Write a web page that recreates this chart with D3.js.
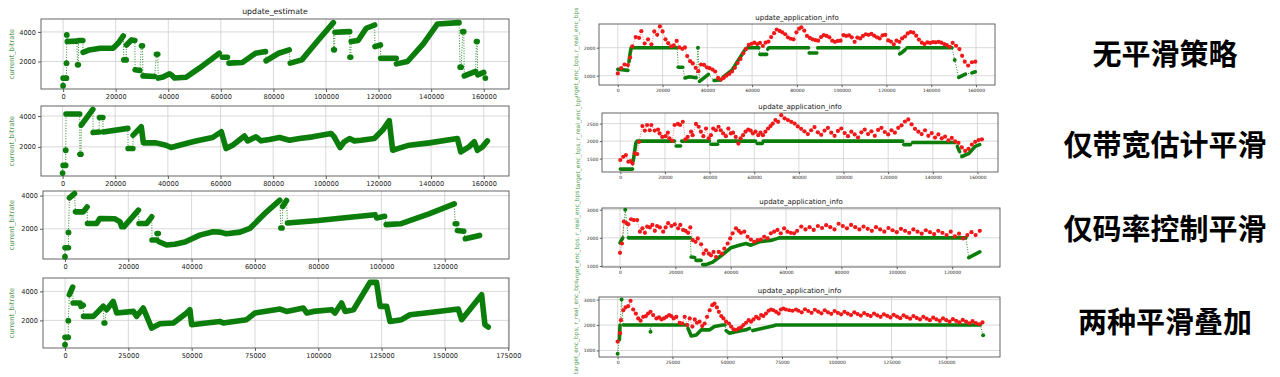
<!DOCTYPE html>
<html>
<head>
<meta charset="utf-8">
<script src="https://cdn.jsdelivr.net/npm/d3@7"></script>
<style>
  body { margin: 0; background: #fff; }
  svg { display: block; font-family: "DejaVu Sans", sans-serif; }
</style>
</head>
<body>
<svg id="chart" width="1280" height="377"></svg>
<script>
// time in thousands of ms, value in bps. Each run is a dense stretch of markers.
const estNoSmooth = [
  [[0,360]], [[0,876],[1.3,876]], [[1.3,1890]], [[1.4,3800]],
  [[1.6,3350],[5.2,3380]], [[5.5,1775],[5.8,1775]], [[5.9,3420],[7.5,3420]],
  [[7.6,2620],[10,2780],[14.1,2900],[19,2900],[21,3250],[22.9,3730]],
  [[23.1,2110],[24,2110]], [[24.1,3120],[26,3460],[27.3,3420]],
  [[27.4,1440],[29.2,1390]], [[29.8,3060],[30.2,3060]], [[30.4,1030],[34.8,990]],
  [[35.5,2490],[36,2490]],
  [[36.2,880],[38,950],[40.5,1170],[41.5,1050],[42.4,880],[46.8,940],[51.8,1550],[56.9,2220],[59.4,2560]],
  [[60.6,2290],[62.5,2290]], [[63.1,1890],[68.2,1930],[73.2,2560],[77,2670]],
  [[77.2,2050],[82,2560],[86,2790]], [[86.4,1890],[90.8,2110],[97.1,3460],[102.8,4630]],
  [[102.9,2790],[103.2,2790]], [[103.4,3980],[109,4020]], [[109.1,2290],[109.4,2290]],
  [[109.6,3350],[112.2,3420],[115.3,4250],[118.5,4470]], [[118.6,3010],[120.7,3120]],
  [[120.8,2220],[126.7,2220]], [[126.8,1840],[131,2000],[137,3200],[142.4,4540],[150.6,4630]],
  [[151,1620],[151.4,1620]], [[152,4020],[152.4,4020]], [[152.6,1030],[156.9,1330]],
  [[157.2,3350],[157.5,3350]], [[157.7,1100],[160,1260]], [[160.6,880]]
];
const estBweSmooth = [
  [[0,300]], [[0.2,800],[1.2,800]], [[1.2,1780]], [[1.3,4130],[6.5,4130]],
  [[6.6,1520],[7,1520]], [[7.1,3410],[11.5,4430]], [[11.6,2935],[13.8,2960]],
  [[14,3910],[15.3,3910]], [[15.4,2970],[24.8,3200]], [[24.9,1890],[26.7,1890]],
  [[26.8,2760],[29.9,3300],[30.7,2260],[35.5,2260],[39.3,2110],[41.2,1960],[44.4,2110],[49.5,2330],[52,2430],[57,2610],[60.3,2980],
   [62.1,1890],[64.6,2110],[69.1,2700],[70.3,2390],[73.5,2650],[75.4,2390],[78.6,2480],[82.4,2610],[86.2,2430],[90,2540],[95,2650],
   [102,2870],[103.2,2650],[105.4,1960],[107,2330],[109,2540],[110.8,2390],[113.4,2430],[118.4,2540],[121.6,3090],[124.1,3700],
   [125.4,1780],[127.3,1890],[131.7,2110],[139.3,2260],[150,2540],[151.3,1670],[154.4,2000],[156.4,2330],[157.6,1780],[159.5,2000],[161.4,2390]]
];
const estRateSmooth = [
  [[0,320]], [[0,860],[1.1,860]], [[1.1,1780]], [[1.4,3860],[3,4120]],
  [[3.3,3020],[5.8,3020],[7,3320]],
  [[7.1,2320],[10,2320],[11,2620],[15.8,2600],[17.4,2420],[17.9,2120],[18.6,2120],[23.2,3120]],
  [[23.4,2320],[25.8,2320],[27.4,2720]], [[27.5,1320],[29,1320]], [[29.1,1720],[29.5,1720]],
  [[29.7,1220],[32.1,1020],[34.7,1070],[37.9,1200],[42.6,1620],[46.8,1820],[49,1800],[51,1700],[55.3,1800],[58.4,2020],[63.7,3020],[67.9,3720]],
  [[68.2,2050],[68.6,2050]], [[68.8,3350],[70,3700]],
  [[70.3,2350],[80,2500],[90,2700],[98,2850]], [[98.5,2650],[101,2750]],
  [[101.5,2250],[106,2300],[115,2900],[123,3500]], [[123.3,2300],[123.8,2300]],
  [[124,1900],[126,1850]], [[126.5,1400],[131,1600]]
];
const estBothSmooth = [
  [[0,320]], [[0,830],[1.3,830]], [[1.3,1980]], [[1.7,3770],[3,4300]],
  [[3.2,3200],[6,3200],[6.3,2970],[7.2,3050]], [[7.3,2280],[11.2,2280],[15.1,2970]],
  [[15.4,1820],[15.7,1820]],
  [[16.4,2740],[19,3310],[20.4,2510],[27,2620],[28.3,2280],[30.9,2850],[34.2,1470],[37.5,1770],[42.8,1820],[48,2510],[49.3,2740],[50,1700],
   [55.9,1820],[61.2,1930],[62.5,1820],[71.7,2050],[75,2510],[84.9,2780],[87.5,2620],[94.1,2850],[95.5,2510],[98.1,2620],[105.3,2740],
   [106.6,2510],[109.2,3200],[110.6,2620],[113.9,2740],[119.1,4230],[120.4,4620],[123,4620],[124.4,2970],[127,2970],[128.3,1930],
   [132.9,2050],[136.2,2390],[144.1,2550],[155.3,2780],[156.6,2050],[164.5,3770],[165.8,1700],[167.1,1540]]
];

const targetNoSmooth = [
  [[0,1230],[4.5,1190]], [[5,1500],[5.5,1800],[6,2000],[26.5,2000]], [[27,1300],[29,1300]],
  [[30,920],[32,960],[35,930]], [[35.8,2000]], [[36.5,800],[40.5,1050]], [[43,830],[46,850]],
  [[47,950],[51,1200],[55,1700],[57,1950],[58,2000],[63,2000]], [[63.5,1760],[66.5,1760]],
  [[67,1950],[67.5,2000],[85.2,2000]], [[85.5,1810],[88.9,1810]], [[89.3,2000],[125.5,2000]],
  [[125.9,1780],[127,1830],[128.4,1930]], [[129.2,2000],[149.3,2000]], [[150.5,1560]],
  [[152.3,940],[155.3,1060]], [[158.2,1100],[159.7,1140]]
];
const realNoSmooth = [
  [0,1080],[1.5,1270],[3,1400],[4.5,1380],[5.5,1650],[6.5,2050],[8,2380],[9.5,2350],[10.5,2590],[12,2150],[13.5,2300],[15,2120],
  [16.3,2580],[17.6,2460],[18.8,2760],[20,2580],[21.3,2300],[22.5,2160],[23.8,2050],[25,2080],[26.3,2240],[27.5,2010],[28.8,1960],
  [30,2010],[31,1700],[32.3,1520],[33.5,1440],[34.8,1280],[36,1160],[37.2,1400],[38.5,1390],[39.8,1300],[41,1270],[42.3,1220],
  [43.5,1150],[44.8,920],[46,860],[47.3,920],[48.5,1000],[49.8,1060],[51,1150],[52.3,1280],[53.5,1450],[54.8,1600],[56,1800],
  [57.3,1950],[58.5,2100],[59.8,2140],[61,2180],[62.3,2130],[63.5,2170],[64.8,2060],[66,2180],[67.3,2220],[68.5,2380],[69.8,2520],
  [71,2650],[72.3,2600],[73.5,2550],[74.8,2480],[76,2370],[77.3,2320],[78.5,2300],[79.8,2550],[81,2680],[82,2730],[83.3,2610],
  [84.5,2420],[85.8,2350],[87,2300],[88.3,2270],[89.5,2250],[90.8,2380],[92,2450],[93.3,2420],[94.5,2370],[95.8,2250],[97,2210],
  [98.3,2240],[99.5,2250],[100.8,2450],[102,2420],[103.3,2440],[104.5,2370],[105.8,2210],[107,2360],[108.3,2330],[109.5,2420],
  [110.8,2480],[112,2460],[113.3,2490],[114.5,2430],[115.8,2370],[117,2330],[118.3,2440],[119.5,2460],[120.8,2260],[122,2220],
  [123.3,2120],[124.5,2250],[125.8,2210],[127,2330],[128.3,2400],[129.5,2510],[130.8,2560],[132,2540],[133.3,2430],[134.5,2290],
  [135.8,2180],[137,2130],[138.3,2190],[139.5,2170],[140.8,2200],[142,2190],[143.3,2210],[144.5,2180],[145.8,2130],[147,2090],
  [148.3,2030],[149.6,2170],[151.1,2070],[152.6,1950],[153.8,1710],[155,1500],[156.5,1360],[158.2,1480],[159.7,1500]
];

const targetBweSmooth = [
  [[0,1200],[5.5,1200]], [[5.8,1440],[7,1950],[7.5,2000],[24.3,2000]], [[25,1860],[27,1860]],
  [[27.5,2000],[39.9,2000]], [[40.6,1910],[43.6,1910]], [[44,2000],[60.6,2000]], [[61.3,1930],[63.6,1930]],
  [[64,2000],[126.5,2000]], [[127,1900],[130,1900]], [[131,1960],[150,1960]], [[151,1850],[152,1700]],
  [[153,1560],[156,1640],[159,1850],[161,1900]]
];
const realBweSmooth = [
  [0,1460],[1.3,1550],[2.5,1600],[3.6,1410],[4.6,1430],[5.5,1360],[6.5,1650],[7.6,1630],[8.4,1980],[9.9,2430],[11,2300],[12,2460],
  [13.2,2310],[13.9,2460],[15.4,2300],[16.9,2330],[17.6,2220],[18.8,2120],[20.3,2140],[21.3,2240],[22,2080],[23.3,2010],[24.3,2460],
  [25.8,2490],[26.8,2460],[28,2550],[29.2,2050],[30.2,2120],[31.7,2270],[32.4,2170],[33.9,2490],[35.1,2410],[36.1,2270],[37.2,2140],
  [38.4,2360],[39.6,2080],[40.6,2170],[41.6,2360],[42.8,2310],[44,2410],[45,2310],[46.1,2220],[47.3,2140],[48.4,2360],[49.5,2220],
  [50.5,2240],[51.7,2120],[52.9,1930],[53.9,2080],[55,2170],[56.1,2270],[57.3,2330],[58.4,2300],[59.4,2220],[60.6,2270],[61.8,2170],
  [62.8,2240],[63.9,2170],[65,2270],[66.2,2360],[67.3,2430],[68.3,2500],[69.5,2600],[70.7,2550],[72.1,2740],[73.6,2650],[75.1,2600],
  [76.6,2550],[78.1,2500],[79.5,2420],[81,2350],[82.5,2280],[84,2200],[85.5,2310],[87,2400],[88.5,2250],[90,2180],[91.5,2300],
  [93,2380],[94.5,2240],[96,2150],[97.5,2290],[99,2360],[100.5,2230],[102,2140],[103.5,2270],[105,2190],[106.5,2100],[108,2250],
  [109.5,2330],[111,2200],[112.5,2280],[114,2150],[115.5,2320],[117,2380],[118.5,2260],[120,2190],[121.5,2310],[123,2240],[124.5,2380],
  [126,2450],[127.5,2560],[129,2620],[130.5,2480],[132,2350],[133.5,2270],[135,2200],[136.5,2310],[138,2150],[139.5,2230],[141,2100],
  [142.5,2190],[144,2080],[145.5,2130],[147,2020],[148.5,2090],[150,1990],[151.5,1950],[153,1820],[154.5,1720],[156,1780],[157.5,1900],
  [159,1980],[160.5,2030],[162,2050]
];

const targetRateSmooth = [
  [[0,1820],[1,2000]], [[1.9,3000]], [[3,2000],[25.4,2000]], [[25.7,1320],[27,1300]], [[27.5,1200],[29.3,1200]],
  [[29.9,1050],[31.1,1050],[33.5,1140],[35.9,1320],[38.3,1500],[40.1,1650],[43.1,1740],[45.5,1800],[47.3,1740],[50.3,1860],
   [55,1920],[57.5,2000],[125,2000]],
  [[126,1300],[130,1500]]
];
const realRateSmooth = [
  [0,1470],[0.7,1800],[1.4,2580],[2.4,2520],[3,2480],[4,2660],[5,2630],[6.2,2630],[7.2,2220],[8.1,2340],[9,2180],[9.8,2400],
  [10.8,2370],[11.7,2460],[12.6,2250],[13.4,2420],[14.4,2370],[15.6,2220],[16.5,2370],[17.4,2520],[18.6,2420],[19.8,2480],[21,2340],
  [21.8,2460],[22.8,2280],[23.7,2250],[24.6,2180],[25.4,2370],[26.3,1920],[27.3,1860],[28.1,1980],[29.3,1770],[30.2,1440],[31.1,1560],
  [32.1,1440],[32.9,1380],[33.8,1500],[34.7,1320],[35.7,1500],[36.9,1440],[37.7,1620],[38.9,1800],[39.8,1980],[40.7,2160],[41.9,2340],
  [42.9,2250],[43.7,2180],[44.9,2220],[46.1,2040],[47.3,1940],[48.5,1860],[49.7,1920],[50.9,1940],[52.1,2040],[53.3,1980],[54.5,2160],
  [55.7,2220],[56.9,2280],[58.1,2160],[59.3,2340],[60.5,2220],[61.7,2180],[62.9,2160],[64,2250],[65.5,2400],[67,2300],[68.5,2380],
  [70,2280],[71.5,2420],[73,2350],[74.5,2450],[76,2380],[77.5,2300],[79,2500],[80.5,2420],[82,2340],[83.5,2460],[85,2380],[86.5,2300],
  [88,2400],[89.5,2320],[91,2250],[92.5,2380],[94,2300],[95.5,2220],[97,2350],[98.5,2270],[100,2200],[101.5,2320],[103,2250],
  [104.5,2180],[106,2300],[107.5,2220],[109,2150],[110.5,2270],[112,2200],[113.5,2130],[115,2250],[116.5,2180],[118,2100],[119.5,2220],
  [121,2050],[122.5,2150],[124,1980],[125.5,2100],[127,2200],[128.5,2100],[130,2250]
];

const targetBothSmooth = [
  [[0,870]], [[0.8,1420],[1.1,2000]], [[1.8,3000]], [[2.6,2000],[14.6,2000]], [[15,1740]], [[15.4,2000],[31.4,2000]],
  [[32.1,1870],[33.6,1570],[35.9,1610],[38.2,1810],[42,1810],[44.2,1940],[48,2000],[49,2000]],
  [[49.5,1780],[51,1680],[54,1740],[58.6,1810],[60.2,1870]], [[61.7,1780],[66.2,1870],[70.8,1960],[72.3,2000],[165.5,2000]],
  [[166.8,1600]]
];
const realBothSmooth = [
  [0,1350],[1.1,1680],[1.5,2190],[2.6,2580],[3.6,2690],[4.8,2740],[5.9,2950],[7.1,2610],[8.3,2450],[9.4,2260],[10.5,2170],[11.7,2320],
  [12.9,2350],[13.9,2450],[15,2520],[16.2,2390],[17.7,2260],[18.9,2300],[20,2220],[21.1,2260],[22.3,2320],[23.5,2390],[24.5,2350],
  [25.6,2260],[26.8,2320],[28.3,2090],[29.5,2060],[30.6,2320],[31.8,2000],[32.9,2260],[34.1,1940],[35.2,2220],[36.2,2090],[37.4,2130],
  [38.6,1960],[39.7,2060],[40.8,2320],[42,2580],[43.2,2780],[44.2,2840],[45.3,2690],[46.2,2520],[47.3,2350],[48.3,2260],[49.5,2130],
  [50.8,2060],[51.8,1940],[52.9,1830],[54.1,1810],[55.3,1870],[56.4,1910],[57.4,2000],[58.6,2090],[59.8,2190],[60.9,2130],[62,2220],
  [63.2,2320],[64.4,2260],[65.5,2390],[66.5,2350],[67.7,2450],[68.9,2560],[70,2610],[71.1,2580],[72.3,2520],[73.5,2450],[74.5,2610],
  [75.6,2650],[76.8,2610],[78.3,2580],[79.8,2560],[81.4,2610],[82.5,2560],[84,2500],[85.5,2620],[87,2550],[88.5,2480],[90,2600],
  [91.5,2530],[93,2460],[94.5,2580],[96,2500],[97.5,2440],[99,2550],[100.5,2480],[102,2420],[103.5,2520],[105,2450],[106.5,2390],
  [108,2500],[109.5,2430],[111,2370],[112.5,2470],[114,2400],[115.5,2350],[117,2450],[118.5,2380],[120,2320],[121.5,2420],[123,2360],
  [124.5,2300],[126,2400],[127.5,2330],[129,2270],[130.5,2380],[132,2310],[133.5,2250],[135,2350],[136.5,2280],[138,2220],[139.5,2320],
  [141,2250],[142.5,2190],[144,2290],[145.5,2220],[147,2160],[148.5,2260],[150,2190],[151.5,2130],[153,2230],[154.5,2160],[156,2100],
  [157.5,2200],[159,2130],[160.5,2070],[162,2150],[163.5,2080],[165,2030],[166.5,2100]
];

const ticks160k = [0, 20000, 40000, 60000, 80000, 100000, 120000, 140000, 160000];
const ticks120k = [0, 20000, 40000, 60000, 80000, 100000, 120000];
const ticks175k = [0, 25000, 50000, 75000, 100000, 125000, 150000, 175000];
const ticks150k = [0, 25000, 50000, 75000, 100000, 125000, 150000];
const estYTicks = [2000, 4000];
const appYTicks = [1000, 2000, 3000];
const appYTicksBwe = [1500, 2000, 2500];

const rowLabels = ["无平滑策略", "仅带宽估计平滑", "仅码率控制平滑", "两种平滑叠加"];

const GREEN = "#0b7d0b";
const RED = "#f01818";
const LABEL_GREEN = "#4f9a4f";

const svg = d3.select("#chart");
const defs = svg.append("defs");

function setupPanel(p) {
  defs.append("clipPath").attr("id", p.id)
    .append("rect").attr("x", p.clip[0]).attr("y", p.clip[1]).attr("width", p.clip[2]).attr("height", p.clip[3]);
  const g = svg.append("g").attr("clip-path", `url(#${p.id})`);
  const [x0, y0, x1, y1] = p.box;
  const x = d3.scaleLinear().domain(p.xDomain).range([x0, x1]);
  const y = d3.scaleLinear().domain(p.yDomain).range([y1, y0]);

  const grid = g.append("g").attr("stroke", "#cfcfcf").attr("stroke-width", 0.8);
  grid.selectAll(".gx").data(p.xTicks).join("line")
    .attr("x1", d => x(d)).attr("x2", d => x(d)).attr("y1", y0).attr("y2", y1);
  grid.selectAll(".gy").data(p.yTicks).join("line")
    .attr("y1", d => y(d)).attr("y2", d => y(d)).attr("x1", x0).attr("x2", x1);

  const ax = g.append("g").attr("transform", `translate(0,${y1})`)
    .call(d3.axisBottom(x).tickValues(p.xTicks).tickFormat(d3.format("d")).tickSize(p.tick).tickPadding(p.pad));
  const ay = g.append("g").attr("transform", `translate(${x0},0)`)
    .call(d3.axisLeft(y).tickValues(p.yTicks).tickFormat(d3.format("d")).tickSize(p.tick).tickPadding(p.pad));
  [ax, ay].forEach(a => {
    a.select(".domain").remove();
    a.selectAll("line").attr("stroke", "#333").attr("stroke-width", 0.8);
    a.selectAll("text").attr("fill", "#222").style("font-size", p.tickFont + "px").style("font-family", "DejaVu Sans");
  });

  g.append("rect").attr("x", x0).attr("y", y0).attr("width", x1 - x0).attr("height", y1 - y0)
    .attr("fill", "none").attr("stroke", "#555").attr("stroke-width", 0.9);

  if (p.title) {
    g.append("text").attr("x", (x0 + x1) / 2).attr("y", p.titleY).attr("text-anchor", "middle")
      .attr("dominant-baseline", "central").style("font-size", p.titleFont + "px").attr("fill", "#111").text(p.title);
  }
  g.append("text")
    .attr("transform", `translate(${p.ylabelX},${(y0 + y1) / 2}) rotate(-90)`)
    .attr("text-anchor", "middle").attr("dominant-baseline", "central")
    .style("font-size", p.ylabelFont + "px").attr("fill", LABEL_GREEN).text(p.ylabel);

  const plot = g.append("g");
  return { g: plot, x, y };
}

function drawRuns(ctx, runs, color, width, r) {
  const { g, x, y } = ctx;
  const line = d3.line().x(d => x(d[0] * 1000)).y(d => y(d[1]));
  g.append("path").attr("d", line(runs.flat())).attr("fill", "none")
    .attr("stroke", color).attr("stroke-width", 0.9).attr("stroke-dasharray", "1,1.6");
  g.selectAll(null).data(runs.filter(run => run.length > 1)).join("path")
    .attr("d", line).attr("fill", "none").attr("stroke", color).attr("stroke-width", width)
    .attr("stroke-linecap", "round").attr("stroke-linejoin", "round");
  g.selectAll(null).data(runs.filter(run => run.length === 1)).join("circle")
    .attr("cx", run => x(run[0][0] * 1000)).attr("cy", run => y(run[0][1])).attr("r", r).attr("fill", color);
}

function drawDots(ctx, pts, color, r) {
  const { g, x, y } = ctx;
  const line = d3.line().x(d => x(d[0] * 1000)).y(d => y(d[1]));
  g.append("path").attr("d", line(pts)).attr("fill", "none")
    .attr("stroke", color).attr("stroke-width", 0.7).attr("stroke-opacity", 0.8).attr("stroke-dasharray", "1,1.4");
  g.selectAll(null).data(pts).join("circle")
    .attr("cx", d => x(d[0] * 1000)).attr("cy", d => y(d[1])).attr("r", r).attr("fill", color);
}

const leftCommon = { tick: 3, pad: 2, tickFont: 6.6, ylabel: "current_bitrate", ylabelFont: 6.8, ylabelX: 12, titleFont: 7.8 };
const rightCommon = { tick: 2.2, pad: 1.5, tickFont: 4.5, ylabel: "target_enc_bps, r_real_enc_bps", ylabelFont: 6, titleFont: 7, title: "update_application_info" };

const leftPanels = [
  { id: "l1", box: [41, 19, 509, 89], clip: [0, 0, 550, 100], xDomain: [-8400, 169600], yDomain: [141, 4875], xTicks: ticks160k, title: "update_estimate", titleY: 11, data: estNoSmooth },
  { id: "l2", box: [41, 106, 509, 176], clip: [0, 100, 550, 86], xDomain: [-8200, 169600], yDomain: [111, 4651], xTicks: ticks160k, data: estBweSmooth },
  { id: "l3", box: [43, 191, 509, 259], clip: [0, 186, 550, 84], xDomain: [-6950, 140300], yDomain: [180, 4276], xTicks: ticks120k, data: estRateSmooth },
  { id: "l4", box: [43, 278, 509, 348], clip: [0, 270, 550, 107], xDomain: [-8700, 175300], yDomain: [97, 4924], xTicks: ticks175k, data: estBothSmooth }
];
leftPanels.forEach(p => {
  const ctx = setupPanel(Object.assign({}, leftCommon, p, { yTicks: estYTicks }));
  drawRuns(ctx, p.data, GREEN, 5.6, 2.9);
});

const rightPanels = [
  { id: "r1", box: [599, 24, 995, 85], clip: [560, 0, 450, 97], xDomain: [-8400, 168500], yDomain: [668, 2846], xTicks: ticks160k, yTicks: appYTicks.slice(0, 2), titleY: 18, ylabelX: 575, target: targetNoSmooth, real: realNoSmooth },
  { id: "r2", box: [602, 113, 998, 172], clip: [560, 97, 450, 93], xDomain: [-8200, 169200], yDomain: [1117, 2803], xTicks: ticks160k, yTicks: appYTicksBwe, titleY: 106.5, ylabelX: 577, target: targetBweSmooth, real: realBweSmooth },
  { id: "r3", box: [602, 208, 1000, 267], clip: [560, 190, 450, 90], xDomain: [-6500, 137300], yDomain: [965, 3060], xTicks: ticks120k, yTicks: appYTicks, titleY: 201.5, ylabelX: 576, target: targetRateSmooth, real: realRateSmooth },
  { id: "r4", box: [599, 297, 1000, 357], clip: [560, 280, 450, 97], xDomain: [-8500, 174500], yDomain: [743, 3101], xTicks: ticks150k, yTicks: appYTicks, titleY: 290.5, ylabelX: 575, target: targetBothSmooth, real: realBothSmooth }
];
rightPanels.forEach(p => {
  const ctx = setupPanel(Object.assign({}, rightCommon, p));
  drawRuns(ctx, p.target, GREEN, 3.6, 2);
  drawDots(ctx, p.real, RED, 2.1);
});

const labelY = [52, 143, 227, 320];
svg.append("g").selectAll("text").data(rowLabels).join("text")
  .attr("x", 1165).attr("y", (d, i) => labelY[i])
  .attr("text-anchor", "middle").attr("dominant-baseline", "central")
  .style("font-family", "'Noto Sans CJK SC', sans-serif").style("font-weight", 700).style("font-size", "29px")
  .attr("fill", "#000").text(d => d);
</script>
</body>
</html>
